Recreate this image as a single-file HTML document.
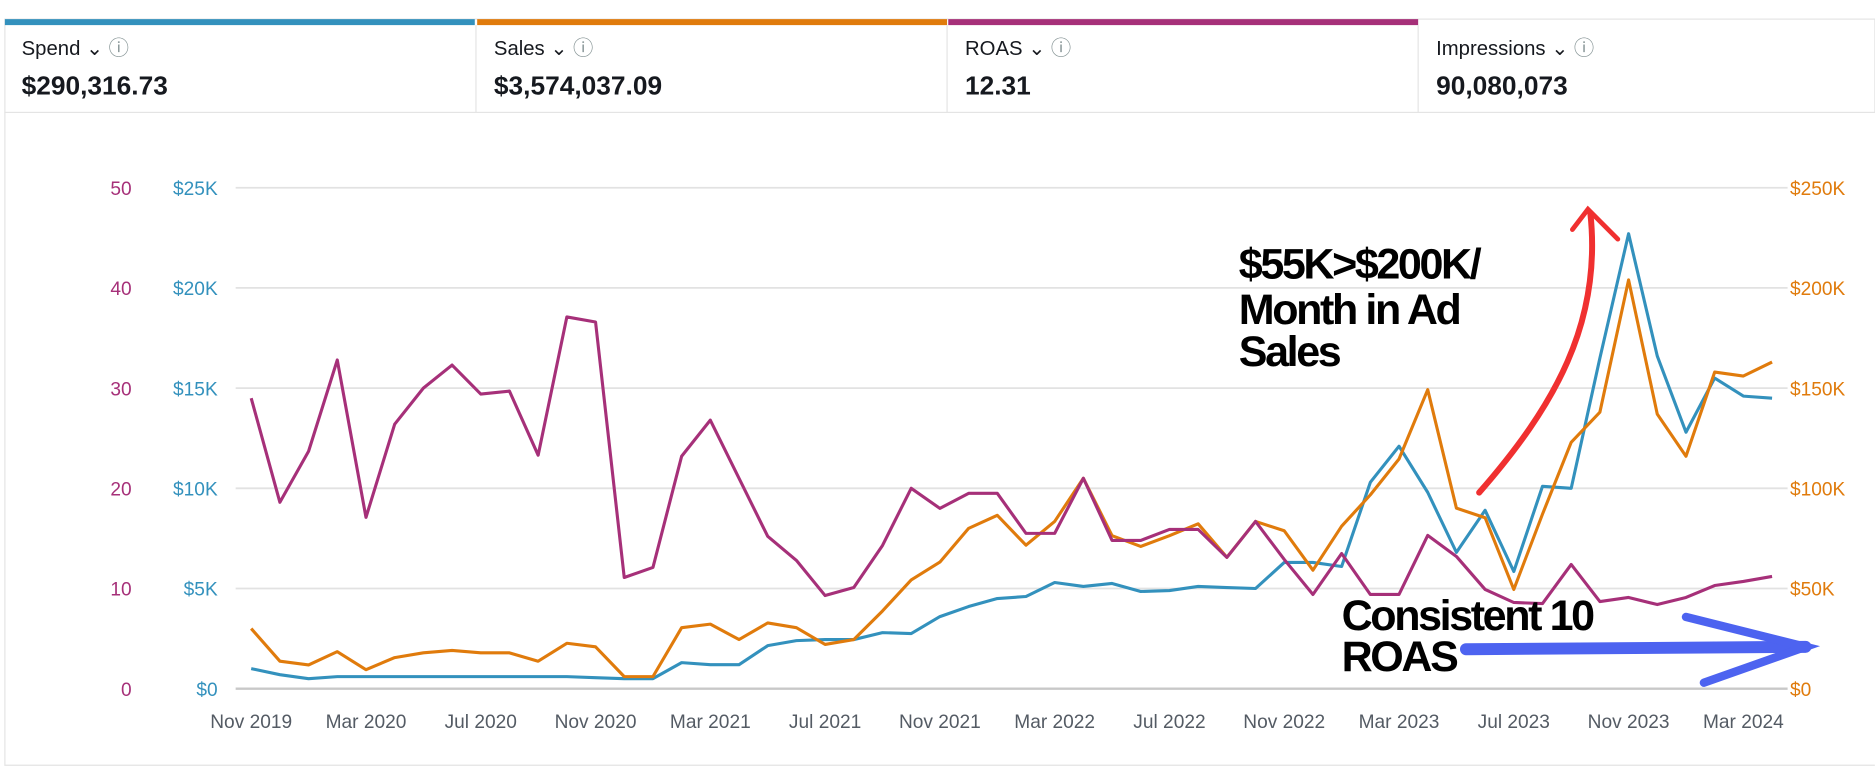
<!DOCTYPE html>
<html><head><meta charset="utf-8"><style>
html,body{margin:0;padding:0;background:#fff;}
svg{display:block;font-family:"Liberation Sans",sans-serif;}
</style></head><body>
<svg id="chart" width="1875" height="781" viewBox="0 0 1568 653.2" xmlns="http://www.w3.org/2000/svg">
<g>
 <rect x="4" y="16" width="1564" height="78" fill="#fff" stroke="#e4e4e4"/>
 <rect x="4" y="16" width="393" height="5" fill="#3391bd"/>
 <rect x="399" y="16" width="393" height="5" fill="#e07b0c"/>
 <rect x="793" y="16" width="393" height="5" fill="#a63079"/>
 <line x1="398" y1="21" x2="398" y2="94" stroke="#e4e4e4"/>
 <line x1="792" y1="21" x2="792" y2="94" stroke="#e4e4e4"/>
 <line x1="1186" y1="21" x2="1186" y2="94" stroke="#e4e4e4"/>
 <g>
  <text x="18" y="46" font-size="17" fill="#16191f">Spend ⌄ <tspan fill="#879596">ⓘ</tspan></text>
  <text x="18" y="79" font-size="22" font-weight="bold" fill="#16191f">$290,316.73</text>
 </g>
 <g>
  <text x="413" y="46" font-size="17" fill="#16191f">Sales ⌄ <tspan fill="#879596">ⓘ</tspan></text>
  <text x="413" y="79" font-size="22" font-weight="bold" fill="#16191f">$3,574,037.09</text>
 </g>
 <g>
  <text x="807" y="46" font-size="17" fill="#16191f">ROAS ⌄ <tspan fill="#879596">ⓘ</tspan></text>
  <text x="807" y="79" font-size="22" font-weight="bold" fill="#16191f">12.31</text>
 </g>
 <g>
  <text x="1201" y="46" font-size="17" fill="#16191f">Impressions ⌄ <tspan fill="#879596">ⓘ</tspan></text>
  <text x="1201" y="79" font-size="22" font-weight="bold" fill="#16191f">90,080,073</text>
 </g>
</g>
<path d="M4 94 V640 H1568" fill="none" stroke="#e4e4e4"/>
<g id="grid"></g>
<g id="series"></g>
<g id="xlabels"></g>
<g>
 <text font-size="36" font-weight="bold" fill="#000" letter-spacing="-2">
  <tspan x="1036" y="233">$55K&gt;$200K/</tspan><tspan x="1036" y="271">Month in Ad</tspan><tspan x="1036" y="306">Sales</tspan></text>
 <path d="M1237 412 C1300 340 1340 270 1330 178" fill="none" stroke="#f03030" stroke-width="5" stroke-linecap="round"/>
 <path d="M1315 192 L1328 175 L1353 200" fill="none" stroke="#f03030" stroke-width="4" stroke-linecap="round"/>
 <text font-size="36" font-weight="bold" fill="#000" letter-spacing="-2">
  <tspan x="1122" y="527">Consistent 10</tspan><tspan x="1122" y="561">ROAS</tspan></text>
 <path d="M1226 543 L1510 541" stroke="#4d63f0" stroke-width="10" stroke-linecap="round"/>
 <path d="M1410 516 L1510 541 L1425 571" fill="none" stroke="#4d63f0" stroke-width="7" stroke-linecap="round"/>
</g>
</svg>
<script>
const months = ["Nov 2019","Dec 2019","Jan 2020","Feb 2020","Mar 2020","Apr 2020","May 2020","Jun 2020","Jul 2020","Aug 2020","Sep 2020","Oct 2020","Nov 2020","Dec 2020","Jan 2021","Feb 2021","Mar 2021","Apr 2021","May 2021","Jun 2021","Jul 2021","Aug 2021","Sep 2021","Oct 2021","Nov 2021","Dec 2021","Jan 2022","Feb 2022","Mar 2022","Apr 2022","May 2022","Jun 2022","Jul 2022","Aug 2022","Sep 2022","Oct 2022","Nov 2022","Dec 2022","Jan 2023","Feb 2023","Mar 2023","Apr 2023","May 2023","Jun 2023","Jul 2023","Aug 2023","Sep 2023","Oct 2023","Nov 2023","Dec 2023","Jan 2024","Feb 2024","Mar 2024","Apr 2024"];
const roas = [29.0,18.6,23.7,32.8,17.1,26.4,30.0,32.3,29.4,29.7,23.3,37.1,36.6,11.1,12.1,23.2,26.8,21.0,15.2,12.8,9.3,10.1,14.3,20.0,18.0,19.5,19.5,15.5,15.5,21.0,14.8,14.8,15.9,15.9,13.1,16.7,12.9,9.4,13.5,9.4,9.4,15.3,13.2,9.9,8.6,8.5,12.4,8.7,9.1,8.4,9.1,10.3,10.7,11.2];
const spend = [1.0,0.7,0.5,0.6,0.6,0.6,0.6,0.6,0.6,0.6,0.6,0.6,0.55,0.5,0.5,1.3,1.2,1.2,2.15,2.4,2.45,2.45,2.8,2.75,3.6,4.1,4.5,4.6,5.3,5.1,5.25,4.85,4.9,5.1,5.05,5.0,6.3,6.3,6.1,10.3,12.1,9.8,6.8,8.9,5.85,10.1,10.0,16.5,22.7,16.6,12.8,15.5,14.6,14.5];
const sales = [30,13.7,11.9,18.5,9.5,15.5,17.9,19.1,17.9,17.9,13.7,22.7,20.9,6.0,6.0,30.4,32.2,24.5,32.8,30.4,22.1,24.5,38.8,54.3,63.2,80.0,86.5,71.6,83.5,105,76.4,71.0,76.4,82.3,65.6,83.5,78.8,59.1,81.1,96.7,114.6,149.2,90.1,85.3,49.5,87.1,123,138,204,137,116,158,156,163];
const roasTicks = ["0","10","20","30","40","50"];
const spendTicks = ["$0","$5K","$10K","$15K","$20K","$25K"];
const salesTicks = ["$0","$50K","$100K","$150K","$200K","$250K"];
const xTickLabels = ["Nov 2019","Mar 2020","Jul 2020","Nov 2020","Mar 2021","Jul 2021","Nov 2021","Mar 2022","Jul 2022","Nov 2022","Mar 2023","Jul 2023","Nov 2023","Mar 2024"];

const NS = "http://www.w3.org/2000/svg";
const X0 = 210, DX = 24.0, Y0 = 576, YTOP = 157;
const xs = i => X0 + DX * i;
const yFrac = f => Y0 - (Y0 - YTOP) * f;
const yRoas = v => yFrac(v / 50);
const ySpend = v => yFrac(v / 25);
const ySales = v => yFrac(v / 250);
function mk(tag, attrs, parent) { const e = document.createElementNS(NS, tag); for (const k in attrs) e.setAttribute(k, attrs[k]); parent.appendChild(e); return e; }

const grid = document.getElementById('grid');
for (let k = 0; k < roasTicks.length; k++) {
  const y = yFrac(k / (roasTicks.length - 1));
  const l = mk('line', {x1: 197, x2: 1495, y1: y, y2: y, stroke: k === 0 ? '#c8c8c8' : '#e2e2e2', 'stroke-width': k === 0 ? 2 : 1.5}, grid);
  
  
  const t1 = mk('text', {x: 110, y: y + 6, 'text-anchor': 'end', 'font-size': 16, fill: '#a63079'}, grid);
  t1.textContent = roasTicks[k];
  
  
  const t2 = mk('text', {x: 182, y: y + 6, 'text-anchor': 'end', 'font-size': 16, fill: '#3391bd'}, grid);
  t2.textContent = spendTicks[k];
  
  
  const t3 = mk('text', {x: 1497, y: y + 6, 'font-size': 16, fill: '#e07b0c'}, grid);
  t3.textContent = salesTicks[k];
  
  
}
const xl = document.getElementById('xlabels');
xTickLabels.forEach(lbl => {
  const i = months.indexOf(lbl);
  const t = mk('text', {x: xs(i), y: 609, 'text-anchor': 'middle', 'font-size': 16, fill: '#545b64'}, xl);
  t.textContent = lbl;
  
  
});
const ser = document.getElementById('series');
function line(data, yf, color, name) {
  const d = data.map((v, i) => (i ? 'L' : 'M') + xs(i).toFixed(1) + ' ' + yf(v).toFixed(1)).join(' ');
  const p = mk('path', {d: d, fill: 'none', stroke: color, 'stroke-width': 2.6, 'stroke-linejoin': 'round'}, ser);
  
  
}
line(spend, ySpend, '#3391bd', 'spend-line');
line(sales, ySales, '#e07b0c', 'sales-line');
line(roas, yRoas, '#a63079', 'roas-line');
</script>
</body></html>
